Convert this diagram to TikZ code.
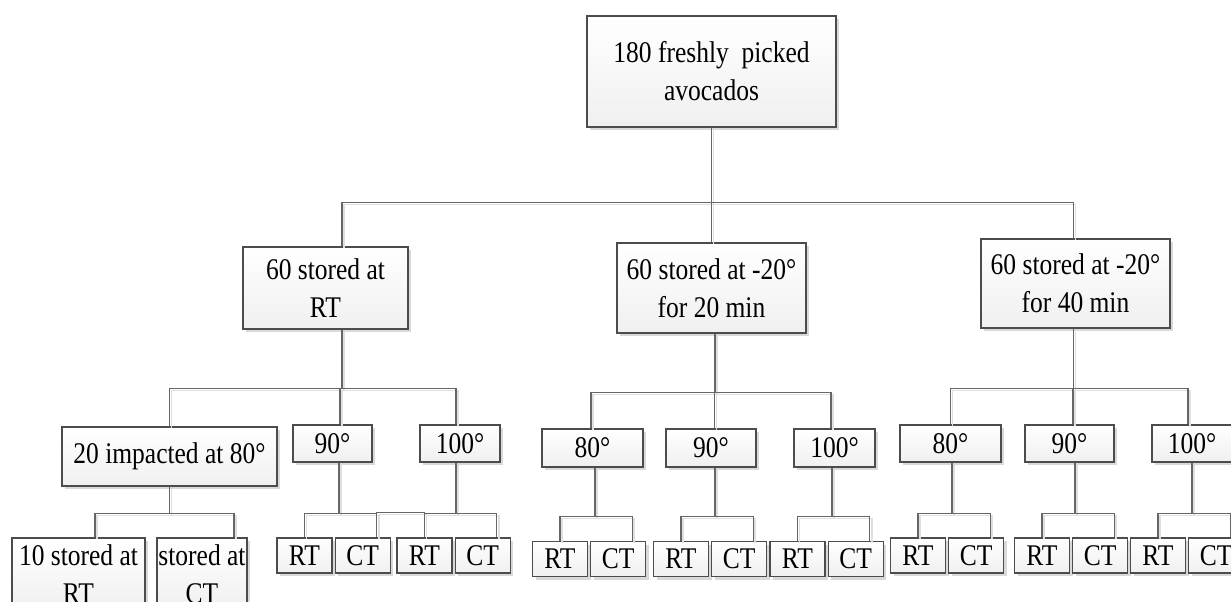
\documentclass[tikz,border=0pt]{standalone}
\usepackage{fontspec}
\setmainfont{Liberation Serif}[FakeStretch=0.85]
\usetikzlibrary{positioning,shadows}

\begin{document}
\begin{tikzpicture}[x=0.5pt,y=-0.5pt,
 box/.style={draw=black!70, line width=0.6pt, top color=white, bottom color=gray!12,
  drop shadow={shadow xshift=1.5pt, shadow yshift=-1.5pt, fill=gray!30, opacity=1},
  inner sep=0pt, align=center, font=\fontsize{15}{19}\selectfont},
 leaf/.style={box, minimum width=27.5pt, minimum height=17.5pt},
 wire/.style={draw=black!60, line width=0.6pt,
  preaction={draw=gray!25, line width=0.8pt, transform canvas={xshift=1pt,yshift=-1pt}}}]

\useasboundingbox (0,0) rectangle (1231,601);

% top
\node[box, minimum width=124.5pt, minimum height=55.5pt] (root) at (711.5,71.5) {180 freshly\ \ picked\\avocados};

% storage
\node[box, minimum width=82.5pt, minimum height=41pt] (room) at (325.5,288) {60 stored at\\RT};
\node[box, minimum width=94.5pt, minimum height=45pt] (frz20) at (711.5,288) {60 stored at -20°\\for 20 min};
\node[box, minimum width=94.5pt, minimum height=44.5pt] (frz40) at (1075.5,283.5) {60 stored at -20°\\for 40 min};

\draw[wire] (root.south) -- ++(0,75) -| ([xshift=8.25pt]room.north);
\draw[wire] (root.south) -- (frz20.north);
\draw[wire] (root.south) -- ++(0,75) -| ([xshift=-1pt]frz40.north);

% impact
\node[box, minimum width=107.5pt, minimum height=29.5pt] (room80) at (169.5,456.5) {20 impacted at 80°};
\node[box, minimum width=39.5pt, minimum height=18.5pt] (room90) at (332.5,443.5) {90°};
\node[box, minimum width=40pt, minimum height=18.5pt] (room100) at (460,443.5) {100°};

\node[box, minimum width=50.5pt, minimum height=19pt] (f20-80) at (592.5,448) {80°};
\node[box, minimum width=45pt, minimum height=19pt] (f20-90) at (711,448) {90°};
\node[box, minimum width=40.5pt, minimum height=19pt] (f20-100) at (834.5,448) {100°};

\node[box, minimum width=50.5pt, minimum height=18.5pt] (f40-80) at (950.5,443.5) {80°};
\node[box, minimum width=44.5pt, minimum height=18.5pt] (f40-90) at (1069.5,443.5) {90°};
\node[box, minimum width=40pt, minimum height=18.5pt] (f40-100) at (1192,443.5) {100°};

\foreach \c/\s in {room80/0pt, room90/3.75pt, room100/-2pt}
 \draw[wire] ([xshift=8.25pt]room.south) -- ++(0,59) -| ([xshift=\s]\c.north);
\foreach \c/\s in {f20-80/-0.75pt, f20-90/1.75pt, f20-100/-1.75pt}
 \draw[wire] ([xshift=1.75pt]frz20.south) -- ++(0,59) -| ([xshift=\s]\c.north);
\foreach \c/\s in {f40-80/0pt, f40-90/1.75pt, f40-100/-2pt}
 \draw[wire] ([xshift=-1pt]frz40.south) -- ++(0,60) -| ([xshift=\s]\c.north);

% after impact
\node[box, minimum width=66.5pt, minimum height=36pt] (room80rt) at (78.5,574) {10 stored at\\RT};
\node[box, minimum width=45pt, minimum height=36pt] (room80ct) at (202,574) {stored at\\CT};
\draw[wire] (room80.south) -- ++(0,27) -| ([xshift=8.25pt]room80rt.north);
\draw[wire] (room80.south) -- ++(0,27) -| ([xshift=16pt]room80ct.north);

\foreach \p/\x/\y/\s/\d in {room90/304.5/555.5/3.25/51, room100/424.5/555.5/-2/51,
  f20-80/560/559/1.25/49, f20-90/681/559/2/49, f20-100/797.5/559/-1.25/49,
  f40-80/918/555.5/0.75/51, f40-90/1042/555.5/2.75/51, f40-100/1158/555.5/0/51}{
 \node[leaf] (\p rt) at (\x,\y) {RT};
 \node[leaf, right=1pt of \p rt] (\p ct) {CT};
 \draw[wire] ([xshift=\s pt]\p.south) -- ++(0,\d) -| (\p rt.north);
 \draw[wire] ([xshift=\s pt]\p.south) -- ++(0,\d) -| ([xshift=7pt]\p ct.north);
}
\draw[wire] ([xshift=7pt]room90ct.north) -- ++(0,-25) -| (room100rt.north);

\end{tikzpicture}
\end{document}
